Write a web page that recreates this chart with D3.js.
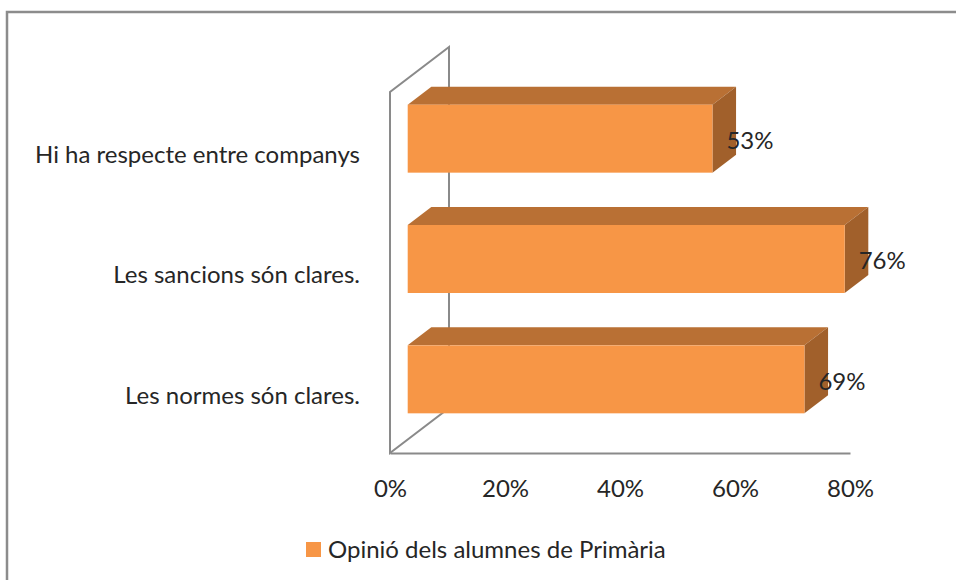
<!DOCTYPE html>
<html>
<head>
<meta charset="utf-8">
<script src="https://cdn.jsdelivr.net/npm/d3@7"></script>
<style>
  body { margin: 0; background: #fff; }
  svg text { font-family: Lato, "Open Sans", sans-serif; fill: #262626; }
</style>
</head>
<body>
<svg id="chart" width="956" height="580"></svg>
<script>
// Chart data
const categories = ["Hi ha respecte entre companys", "Les sancions són clares.", "Les normes són clares."];
const values = [0.53, 0.76, 0.69];
const tickValues = [0, 0.2, 0.4, 0.6, 0.8];
const seriesName = "Opinió dels alumnes de Primària";

const svg = d3.select("#chart");
const fontSize = "24px";

// Outer chart border (runs off the right and bottom edge)
svg.append("rect")
    .attr("x", 7).attr("y", 12)
    .attr("width", 980).attr("height", 600)
    .attr("fill", "none")
    .attr("stroke", "#8c8c8c")
    .attr("stroke-width", 2.5);

// front plane of the plot + depth vector
const plotLeft = 390, plotRight = 850, plotTop = 92, plotBottom = 453;
const depth = { x: 59, y: -45 };
const front = 0.3, thick = 0.4;   // bar starts 30% into the depth, is 40% deep

const x = d3.scaleLinear().domain([0, 0.8]).range([plotLeft, plotRight]);
const y = d3.scaleBand().domain(categories).range([plotTop, plotBottom])
    .paddingInner(0.435).paddingOuter(0.2175);

// Side wall at 0%
svg.append("path")
    .attr("d", `M${plotLeft},${plotBottom} L${plotLeft},${plotTop} L${plotLeft + depth.x},${plotTop + depth.y} L${plotLeft + depth.x},${plotBottom + depth.y} Z`)
    .attr("fill", "none")
    .attr("stroke", "#8a8a8a")
    .attr("stroke-width", 2);

// Value axis along the front edge of the floor
const xAxis = svg.append("g")
    .attr("transform", `translate(0,${plotBottom})`)
    .call(d3.axisBottom(x).tickValues(tickValues).tickFormat(d3.format(".0%")).tickSize(0).tickPadding(27));
xAxis.select(".domain").attr("stroke", "#8a8a8a").attr("stroke-width", 2);
xAxis.selectAll("text").style("font-size", fontSize).style("font-family", "Lato, 'Open Sans', sans-serif").attr("fill", "#262626");

// Category labels
svg.append("g").selectAll("text")
    .data(categories)
    .join("text")
    .attr("x", 360)
    .attr("y", d => y(d) + y.bandwidth() / 2 + front * depth.y + 16)
    .attr("dy", "0.35em")
    .attr("text-anchor", "end")
    .style("font-size", fontSize)
    .text(d => d);

// 3D bars
const ox = front * depth.x, oy = front * depth.y;
const bx = thick * depth.x, by = thick * depth.y;
const bars = svg.append("g").selectAll("g")
    .data(categories.map((c, i) => ({ cat: c, value: values[i] })))
    .join("g");

bars.each(function(d) {
    const g = d3.select(this);
    const x0 = x(0) + ox, x1 = x(d.value) + ox;
    const y0 = y(d.cat) + oy, y1 = y0 + y.bandwidth();
    // top face
    g.append("path")
        .attr("d", `M${x0},${y0} L${x1},${y0} L${x1 + bx},${y0 + by} L${x0 + bx},${y0 + by} Z`)
        .attr("fill", "#b97034");
    // end face
    g.append("path")
        .attr("d", `M${x1},${y0} L${x1 + bx},${y0 + by} L${x1 + bx},${y1 + by} L${x1},${y1} Z`)
        .attr("fill", "#a1602b");
    // front face
    g.append("rect")
        .attr("x", x0).attr("y", y0)
        .attr("width", x1 - x0).attr("height", y1 - y0)
        .attr("fill", "#f79646");
    // data label
    g.append("text")
        .attr("x", x1 + 14)
        .attr("y", (y0 + y1) / 2 + 2)
        .attr("dy", "0.35em")
        .style("font-size", fontSize)
        .text(d3.format(".0%")(d.value));
});

// Legend
const legend = svg.append("g").attr("transform", "translate(306,542)");
legend.append("rect").attr("width", 15).attr("height", 15).attr("fill", "#f79646");
legend.append("text")
    .attr("x", 22).attr("y", 7.5)
    .attr("dy", "0.35em")
    .style("font-size", fontSize)
    .text(seriesName);
</script>
</body>
</html>
